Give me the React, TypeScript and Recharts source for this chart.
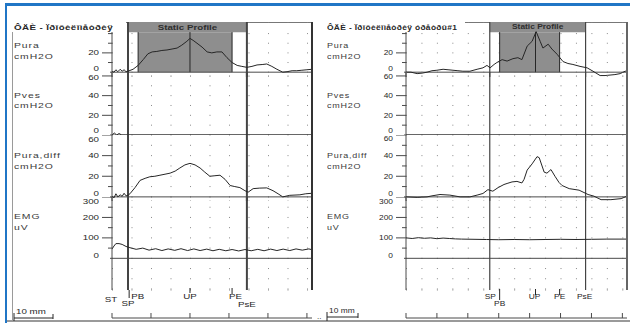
import React from 'react'
import { LineChart, Line, XAxis, YAxis, CartesianGrid, ReferenceLine, ReferenceArea } from 'recharts'

const FONT = 'Arial, "Liberation Sans", Helvetica, sans-serif'
const INK = '#262626'
const AXIS = '#4a4a4a'
const GRID = '#8a8a8a'
const SHADE = '#8e8e8e'
const HEAD_LO = 41.5

// x = mm along the pull

// left recording
const leftPuraX = [0, 0.5, 1, 1.5, 2.1, 2.6, 3.1, 3.6, 4.1, 5.4, 6.7, 8, 9.2, 10.3, 11.5, 12.8, 14.1, 15.4, 16.7, 17.9, 19.2, 20, 20.8, 21.8, 23.1, 24.4, 25.6, 26.9, 28.2, 29.5, 30.8, 32.1, 33.3, 34.6, 35.9, 37.2, 38.7, 39.7, 41, 42.3, 43.8, 44.9, 46.2, 47.4, 48.7, 50, 51.3]
const leftPura = [1, 0, 2.5, 0.5, 3, 1, 2.5, 0.5, 1, 3, 7, 13, 19, 21, 21.5, 22.5, 23, 24, 25, 28, 32, 35, 33, 30, 26, 21, 20, 21, 21, 15, 10, 7, 6, 5, 6, 7.5, 8, 8.5, 6, 3, 0, 0.5, 1.5, 1.5, 2, 2.5, 3]
const leftPvesX = [0, 0.6, 1.2, 1.8, 2.5, 3.5, 10, 20, 30, 40, 51.3]
const leftPves = [0, 2, 0, 1.5, 0, 0, 0, 0, 0, 0, 0]
const leftDiffX = [0, 0.5, 1, 1.5, 2.1, 2.6, 3.1, 3.6, 4.1, 4.6, 5.9, 7.2, 8.5, 9.7, 11, 12.3, 13.6, 14.9, 16.2, 17.4, 18.7, 20, 21.3, 22.6, 23.8, 25.1, 26.4, 27.7, 29, 30.3, 31.5, 32.8, 34.1, 34.9, 36.2, 37.9, 39.7, 41.3, 42.6, 43.8, 45.6, 48.2, 49.7, 51.3]
const leftDiff = [1, -1, 3, 0, 2, 0.5, 3.5, 1, 1.5, 3, 9, 16, 18, 19.5, 20, 21, 22, 23, 25, 28, 31, 32.5, 31, 28, 24, 20, 20.5, 21, 17, 11, 10, 9, 6, 4.5, 8, 8.5, 8.7, 6, 3, 0, 1.5, 2, 3, 3.5]
const leftEmgX = [0, 0.5, 1, 1.8, 2.6, 3.6, 4.6, 6.2, 7.9, 9.5, 11.2, 12.8, 14.4, 16.1, 17.7, 19.4, 21, 22.6, 24.3, 25.9, 27.5, 29.2, 30.8, 32.5, 34.1, 35.7, 37.4, 39, 40.7, 42.3, 43.9, 45.6, 47.2, 48.8, 50.5, 51.3]
const leftEmg = [45, 60, 72, 72, 68, 58, 52, 44, 50, 40, 47, 38, 46, 39, 47, 38, 46, 38, 45, 37, 44, 37, 43, 36, 43, 37, 44, 37, 45, 38, 45, 38, 46, 40, 46, 42]

// right recording
const rightPuraX = [0, 1.6, 3.6, 5.2, 6.8, 8.4, 10, 12, 13.6, 15.2, 16.8, 18.4, 20.7, 23, 24.9, 26.2, 27.2, 28.5, 29.4, 31.1, 32.7, 34.6, 36.2, 37.5, 39.2, 40.8, 42.1, 43.4, 44.3, 46, 47.2, 48.9, 50.8, 52.4, 54, 56.3, 58.6, 60.5, 62.8, 64.4, 66, 67.6, 69.3, 70.9, 71.5]
const rightPura = [0, 0, -1.5, -1, 0, 1.5, 2, 3, 2.5, 2, 1.5, 1, 1, 3, 4.5, 7, 4.5, 8, 10, 13, 11.5, 14, 15, 13, 27, 32, 42, 32, 25, 29, 24, 18.5, 11, 9, 8, 6, 4.5, 1, -3.5, -3.5, -3, -2.5, -1.5, 1, 1]
const rightPvesX = [0, 20, 40, 60, 71.5]
const rightPves = [0, 0, 0, 0, 0]
const rightDiffX = [0, 3.6, 6.8, 8.4, 11, 14.2, 17.5, 20.7, 23, 24.9, 26.5, 28.1, 29.8, 31.7, 32.7, 34.3, 35.9, 37.5, 38.2, 39.2, 40.8, 42.4, 43.1, 44.7, 45.6, 46.9, 48.2, 49.5, 50.5, 52.8, 56, 58.9, 60.8, 63.1, 66.3, 69.6, 71.5]
const rightDiff = [0, -0.5, 0, 1, 2.3, 1.7, 0, 0, 1.7, 3.3, 7, 5.5, 9, 12, 13, 14.5, 15, 13.5, 17, 26, 32, 39, 38, 24, 23, 26.5, 20, 14, 11, 8, 6.5, 2.3, 0.7, -2.7, -2.7, -1.7, 0.7]
const rightEmgX = [0, 2, 4, 6, 8, 10, 12, 14, 16, 18, 22, 26, 30, 35, 40, 45, 50, 55, 60, 65, 71.5]
const rightEmg = [100, 97, 101, 98, 100, 96, 99, 97, 95, 94, 93, 92, 91, 92, 91, 92, 93, 92, 93, 94, 94]

// event markers (mm)
const leftMarks = { SP: 4.1, shadeFrom: 6.7, UP: 20, PE: 30.8, PsE: 34.6 }
const rightMarks = { SP: 27.1, shadeFrom: 30.3, UP: 41.9, PE: 49.7, PsE: 58.1 }

const leftEvents = [
  { x: 0, text: 'ST', dx: -1, dy: 9 },
  { x: 4.4, text: 'PB', dx: 8.5, dy: 6, tick: [0, 8] },
  { x: 4.1, text: 'SP', dx: 0, dy: 13.5 },
  { x: 20, text: 'UP', dx: 0, dy: 6.5, tick: [-2, 3] },
  { x: 30.8, text: 'PE', dx: 3.5, dy: 6, tick: [-2, 4] },
  { x: 34.6, text: 'PsE', dx: 0, dy: 14 },
]
const rightEvents = [
  { x: 27.1, text: 'SP', dx: 0.5, dy: 6.5 },
  { x: 30.3, text: 'PB', dx: 0, dy: 13.5, tick: [-1, 10] },
  { x: 41.9, text: 'UP', dx: -1, dy: 6.5, tick: [-1, 5] },
  { x: 49.7, text: 'PE', dx: 0, dy: 6.5, tick: [-1, 5] },
  { x: 58.1, text: 'PsE', dx: -1, dy: 6.5 },
]

const leftRuler = [0, 10, 20, 30, 40, 50]
const rightRuler = [0, 10, 20, 30, 40, 50, 60, 70]

const ROWS = [
  { id: 'pura', name: 'Pura', unit: 'cmH2O', top: 22, h: 55, domain: [-5, 52], ticks: [0, 10, 20, 30, 40], labels: [0, 20], zeroDy: -3.5, topDy: 0, nameY: 46, unitY: 57 },
  { id: 'pves', name: 'Pves', unit: 'cmH2O', top: 72, h: 63, domain: [0, 64], ticks: [0, 10, 20, 30, 40, 50, 60], labels: [0, 20, 40, 60], zeroDy: -4.5, topDy: 1, nameY: 96, unitY: 106 },
  { id: 'diff', name: 'Pura,diff', unit: 'cmH2O', top: 135, h: 66, domain: [-4, 60], ticks: [0, 10, 20, 30, 40, 50, 60], labels: [0, 20, 40, 60], zeroDy: -3, topDy: 4, nameY: 156, unitY: 167 },
  { id: 'emg', name: 'EMG', unit: 'uV', top: 197, h: 93, domain: [-155, 300], ticks: [-150, -100, -50, 0, 50, 100, 150, 200, 250, 300], labels: [0, 100, 200, 300], zeroDy: -3, topDy: 4.5, nameY: 217, unitY: 228 },
]

const pts = (xs: number[], vs: number[]) => xs.map((x, i) => ({ x, v: vs[i] }))

const leftData: Record<string, any[]> = {
  pura: pts(leftPuraX, leftPura), pves: pts(leftPvesX, leftPves),
  diff: pts(leftDiffX, leftDiff), emg: pts(leftEmgX, leftEmg),
}
const rightData: Record<string, any[]> = {
  pura: pts(rightPuraX, rightPura), pves: pts(rightPvesX, rightPves),
  diff: pts(rightDiffX, rightDiff), emg: pts(rightEmgX, rightEmg),
}

const LEFT_GEO = { left: 12, axisW: 100, plotW: 200, xMax: 51.3, dotGap: 19.5, s: 1.3, thick: 2, edge: '#333', edgeW: 2 }
const RIGHT_GEO = { left: 316, axisW: 90, plotW: 221, xMax: 71.5, dotGap: 15.45, s: 1.12, thick: 1.2, edge: '#666', edgeW: 2 }

const makeYTick = (row: any, s: number) => (props: any) => {
  const { x, y, payload } = props
  const v = payload.value
  if (v < 0) return <g />
  const major = row.labels.includes(v)
  const len = v === 0 ? 2 : major ? 10 : 4
  const top = v === row.ticks[row.ticks.length - 1]
  const dy = v === 0 ? row.zeroDy : top && major ? row.topDy : 0
  return (
    <g>
      <line x1={x - len} x2={x} y1={y} y2={y} stroke={AXIS} />
      {major && (
        <text transform={`translate(${x - 13},${y + dy}) scale(${s},1)`} textAnchor="end" dominantBaseline="central"
          fontFamily={FONT} fontSize={7.5} fill={INK}>{v}</text>
      )}
    </g>
  )
}

function HeadLabel(props: any) {
  const { viewBox, s } = props
  const cx = viewBox.x + viewBox.width / 2
  const cy = viewBox.y + viewBox.height / 2
  return (
    <text transform={`translate(${cx},${cy}) scale(${s},1)`} textAnchor="middle" dominantBaseline="central"
      fontFamily={FONT} fontSize={7.5} fontWeight="bold" fill="#2e2e2e">Static Profile</text>
  )
}

function MarkLabel(props: any) {
  const { viewBox, text, dx, dy, tick, s } = props
  const x = viewBox.x
  const y0 = viewBox.y + viewBox.height
  return (
    <g>
      {tick && <line x1={x} x2={x} y1={y0 + tick[0]} y2={y0 + tick[1]} stroke={INK} />}
      <text transform={`translate(${x + dx},${y0 + dy}) scale(${s},1)`} textAnchor="middle" dominantBaseline="central"
        fontFamily={FONT} fontSize={7.5} fill={INK}>{text}</text>
    </g>
  )
}

function Txt({ x, y, children, s, size = 8, bold = false, spacing = 0.5, color = INK }: any) {
  return (
    <div style={{
      position: 'absolute', left: x, top: y - 6, height: 12, lineHeight: '12px', whiteSpace: 'nowrap',
      fontSize: size, fontWeight: bold ? 'bold' : 'normal', color, letterSpacing: spacing,
      transform: `scaleX(${s})`, transformOrigin: 'left center',
    }}>{children}</div>
  )
}

function Panel({ geo, data, marks, events, ruler, title, titleX, titleW }: any) {
  const chartW = geo.axisW + geo.plotW
  const plotX = geo.left + geo.axisW
  return (
    <>
      {ROWS.map((row) => {
        const isEmg = row.id === 'emg'
        const isPura = row.id === 'pura'
        const padB = isEmg ? 32 : 0
        return (
          <div key={row.id} style={{ position: 'absolute', left: geo.left, top: row.top }}>
            <LineChart width={chartW} height={row.h + padB} data={data[row.id]}
              margin={{ top: 0, right: 0, bottom: padB, left: 0 }}>
              <CartesianGrid vertical={false} stroke={GRID} strokeDasharray={`1 ${geo.dotGap - 1}`} />
              <XAxis type="number" dataKey="x" domain={[0, geo.xMax]} hide allowDataOverflow />
              <YAxis type="number" domain={row.domain} ticks={row.ticks} interval={0} width={geo.axisW}
                allowDataOverflow tickLine={false} tickSize={0} tickMargin={0}
                axisLine={{ stroke: AXIS }} tick={makeYTick(row, geo.s)} />
              {isPura && (
                <ReferenceArea x1={marks.SP} x2={marks.PsE} y1={HEAD_LO} y2={52} fill={SHADE} fillOpacity={1}
                  stroke="none" label={<HeadLabel s={geo.s} />} />
              )}
              {isPura && (
                <ReferenceArea x1={marks.shadeFrom} x2={marks.PE} y1={0} y2={HEAD_LO} fill={SHADE} fillOpacity={1} stroke="none" />
              )}
              {isPura && [marks.shadeFrom, marks.UP, marks.PE].map((m: number) => (
                <ReferenceLine key={m} segment={[{ x: m, y: 0 }, { x: m, y: HEAD_LO }]} stroke={INK} />
              ))}
              <ReferenceLine y={0} stroke={AXIS} />
              <ReferenceLine x={marks.SP} stroke="#444" strokeWidth={geo.thick} />
              <ReferenceLine x={marks.PsE} stroke="#444" strokeWidth={geo.thick} />
              {isEmg && events.map((ev: any) => (
                <ReferenceLine key={ev.text} x={ev.x} stroke="none"
                  label={<MarkLabel text={ev.text} dx={ev.dx} dy={ev.dy} tick={ev.tick} s={geo.s} />} />
              ))}
              <Line type="linear" dataKey="v" stroke={INK} strokeWidth={1} dot={false} isAnimationActive={false} />
            </LineChart>
          </div>
        )
      })}

      {/* ruler */}
      <div style={{ position: 'absolute', left: geo.left, top: 288 }}>
        <LineChart width={chartW} height={32} data={ruler.map((x: number) => ({ x }))}
          margin={{ top: 0, right: 0, bottom: 0, left: geo.axisW }}>
          <XAxis type="number" dataKey="x" orientation="top" domain={[0, geo.xMax]} ticks={ruler} interval={0}
            height={30} tickSize={5} tick={() => <g />} tickLine={{ stroke: AXIS }} axisLine={{ stroke: AXIS }} allowDataOverflow />
          <YAxis hide domain={[0, 1]} />
        </LineChart>
      </div>

      {/* right edge of the plot */}
      <div style={{ position: 'absolute', left: plotX + geo.plotW - 1, top: 22, width: geo.edgeW, height: 268, background: geo.edge }} />

      {/* title box */}
      <div style={{ position: 'absolute', left: titleX - 2, top: 22, width: titleW, height: 10, background: '#fff' }} />
      <Txt x={titleX} y={28} s={geo.s} size={7.5} bold spacing={0.3}>{title}</Txt>

      {ROWS.map((row) => (
        <React.Fragment key={row.id}>
          <Txt x={titleX} y={row.nameY} s={geo.s} size={8} spacing={0.7} color="#3a3a3a">{row.name}</Txt>
          <Txt x={titleX} y={row.unitY} s={geo.s} size={8} spacing={0.7} color="#3a3a3a">{row.unit}</Txt>
        </React.Fragment>
      ))}
    </>
  )
}

export default function App() {
  return (
    <div style={{ position: 'absolute', left: 0, top: 0, width: 630, height: 323, background: '#fff', overflow: 'hidden', fontFamily: FONT }}>
      {/* blue frame */}
      <div style={{ position: 'absolute', left: 5, top: 3, width: 625, height: 2.5, background: '#2076c6' }} />
      <div style={{ position: 'absolute', left: 4.5, top: 3, width: 2.5, height: 320, background: '#2076c6' }} />
      {/* panel frame lines */}
      <div style={{ position: 'absolute', left: 12, top: 22, width: 1, height: 298, background: '#9a9a9a' }} />
      <div style={{ position: 'absolute', left: 12, top: 22, width: 301, height: 1, background: '#777' }} />
      <div style={{ position: 'absolute', left: 325, top: 22, width: 303, height: 1, background: '#777' }} />
      <div style={{ position: 'absolute', left: 7, top: 320, width: 623, height: 1.5, background: '#9a9a9a' }} />

      <Panel geo={LEFT_GEO} data={leftData} marks={leftMarks} events={leftEvents} ruler={leftRuler}
        title="ÔÄÈ - Ïðîôèëîìåòðèÿ" titleX={14} titleW={114} />
      <Panel geo={RIGHT_GEO} data={rightData} marks={rightMarks} events={rightEvents} ruler={rightRuler}
        title="ÔÄÈ - Ïðîôèëîìåòðèÿ óðåòðû#1" titleX={327} titleW={140} />

      {/* 10 mm scale bars */}
      <svg style={{ position: 'absolute', left: 0, top: 300 }} width={630} height={23}>
        <g stroke={INK} strokeWidth={1}>
          <line x1={14} x2={53} y1={18} y2={18} />
          <line x1={14} x2={14} y1={13} y2={21} />
          <line x1={53} x2={53} y1={14} y2={19} />
          <line x1={327} x2={358} y1={17} y2={17} />
          <line x1={327} x2={327} y1={12} y2={21} />
          <line x1={358} x2={358} y1={13} y2={18} />
        </g>
        <text transform="translate(16,13.5) scale(1.3,1)" fontFamily={FONT} fontSize={7.5} fill={INK}>10 mm</text>
        <text transform="translate(329,13) scale(1.12,1)" fontFamily={FONT} fontSize={7.5} fill={INK}>10 mm</text>
        <text x={317} y={19} fontFamily={FONT} fontSize={8} fill={INK}>..</text>
      </svg>
    </div>
  )
}
